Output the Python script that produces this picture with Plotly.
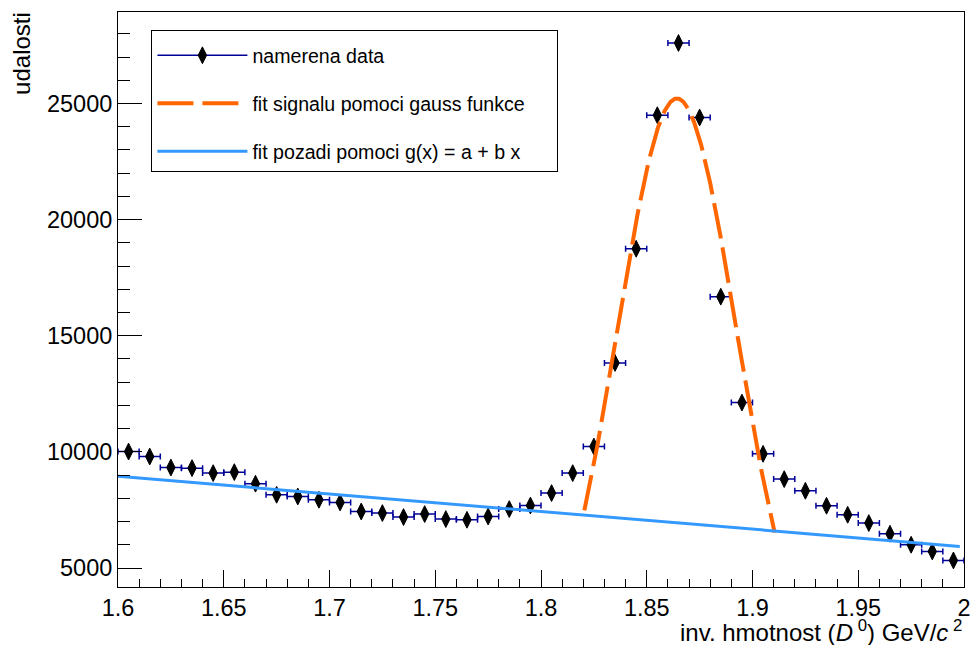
import numpy as np
import plotly.graph_objects as go

# ---- data ----
mass = [1.605, 1.615, 1.625, 1.635, 1.645, 1.655, 1.665, 1.675, 1.685, 1.695,
        1.705, 1.715, 1.725, 1.735, 1.745, 1.755, 1.765, 1.775, 1.785, 1.795,
        1.805, 1.815, 1.825, 1.835, 1.845, 1.855, 1.865, 1.875, 1.885, 1.895,
        1.905, 1.915, 1.925, 1.935, 1.945, 1.955, 1.965, 1.975, 1.985, 1.995]
counts = [10015, 9800, 9327, 9301, 9086, 9129, 8630, 8153, 8080, 7938,
          7822, 7434, 7366, 7194, 7323, 7108, 7077, 7219, 7538, 7692,
          8226, 9086, 10230, 13830, 18746, 24497, 27606, 24398, 16682, 12123,
          9916, 8828, 8325, 7680, 7292, 6935, 6475, 6002, 5714, 5327]
bin_half_width = [0.005] * len(mass)

# fit parameters
gauss_amp, gauss_mean, gauss_sigma = 25215.0, 1.8643, 0.0281
gauss_range = [1.8205, 1.9105]
bg_a, bg_b = 21076.0, -7580.0
bg_range = [1.6, 1.998]

x_range = [1.6, 2.0]
y_range = [4183, 28940]
x_ticks = [1.6, 1.65, 1.7, 1.75, 1.8, 1.85, 1.9, 1.95, 2.0]
x_ticklabels = ["1.6", "1.65", "1.7", "1.75", "1.8", "1.85", "1.9", "1.95", "2"]
y_ticks = [5000, 10000, 15000, 20000, 25000]
y_ticklabels = ["5000", "10000", "15000", "20000", "25000"]

legend_names = ["namerena data",
                "fit signalu pomoci gauss funkce",
                "fit pozadi pomoci g(x) = a + b x"]

xg = np.linspace(gauss_range[0], gauss_range[1], 300)
yg = gauss_amp * np.exp(-0.5 * ((xg - gauss_mean) / gauss_sigma) ** 2)
xb = np.linspace(bg_range[0], bg_range[1], 50)
yb = bg_a + bg_b * xb

FONT = "Liberation Sans, Arial, Helvetica, sans-serif"
NAVY = "#000099"
ORANGE = "#ff6600"
AZURE = "#3399ff"
PAD = "\u00a0" * 5  # widen the legend box like the fixed-width original

fig = go.Figure()

fig.add_trace(go.Scatter(
    x=mass, y=counts, mode="markers", showlegend=False,
    marker=dict(symbol="diamond-tall", size=12, color="black",
                line=dict(color="black", width=1)),
    error_x=dict(type="data", array=bin_half_width, color=NAVY,
                 thickness=1.5, width=3),
))
# legend entry for data
fig.add_trace(go.Scatter(
    x=[None], y=[None], mode="lines+markers", name=legend_names[0],
    legendgroup="a",
    line=dict(color=NAVY, width=1.5),
    marker=dict(symbol="diamond-tall", size=12, color="black",
                line=dict(color="black", width=1)),
))
fig.add_trace(go.Scatter(
    x=xg, y=yg, mode="lines", name=legend_names[1] + PAD,
    legendgroup="b",
    line=dict(color=ORANGE, width=4, dash="36px,9px"),
))
fig.add_trace(go.Scatter(
    x=xb, y=yb, mode="lines", name=legend_names[2],
    legendgroup="c",
    line=dict(color=AZURE, width=3),
))

axis_common = dict(
    showgrid=False, zeroline=False, showline=True, linecolor="black",
    linewidth=1, mirror=True, ticks="inside", tickcolor="black",
    tickfont=dict(family=FONT, size=23.5, color="black"),
    ticklabeloverflow="allow", automargin=False,
)

fig.update_xaxes(
    range=x_range, tickmode="array", tickvals=x_ticks, ticktext=x_ticklabels,
    ticklen=17, tickwidth=1,
    minor=dict(dtick=0.01, ticks="inside", ticklen=8.5, tickcolor="black", tickwidth=1, showgrid=False),
    **axis_common,
)
fig.update_yaxes(
    range=y_range, tickmode="array", tickvals=y_ticks, ticktext=y_ticklabels,
    ticklen=24, tickwidth=1,
    minor=dict(tick0=0, dtick=1000, ticks="inside", ticklen=12, tickcolor="black", tickwidth=1, showgrid=False),
    **axis_common,
)

fig.add_annotation(
    text="inv. hmotnost (<i>D</i><sup> 0</sup>) GeV/<i>c</i><sup> 2</sup>",
    xref="paper", yref="paper", x=1.0, y=0, xanchor="right", yanchor="top",
    yshift=-27, showarrow=False,
    font=dict(family=FONT, size=24, color="black"),
)
fig.add_annotation(
    text="udalosti", textangle=-90,
    xref="paper", yref="paper", x=-0.115, y=1.004, xanchor="center", yanchor="top",
    showarrow=False, font=dict(family=FONT, size=24, color="black"),
)

fig.update_layout(
    width=970, height=645,
    margin=dict(l=118, r=6, t=12, b=58, autoexpand=False),
    paper_bgcolor="white", plot_bgcolor="white",
    font=dict(family=FONT, color="black"),
    legend=dict(
        x=0.0395, y=0.969, xanchor="left", yanchor="top",
        bgcolor="white", bordercolor="black", borderwidth=1,
        font=dict(family=FONT, size=19.6, color="black"),
        title=dict(text=" ", font=dict(size=4)),
        itemwidth=90, traceorder="grouped", tracegroupgap=19.5,
    ),
)

fig.write_html("out.html")
